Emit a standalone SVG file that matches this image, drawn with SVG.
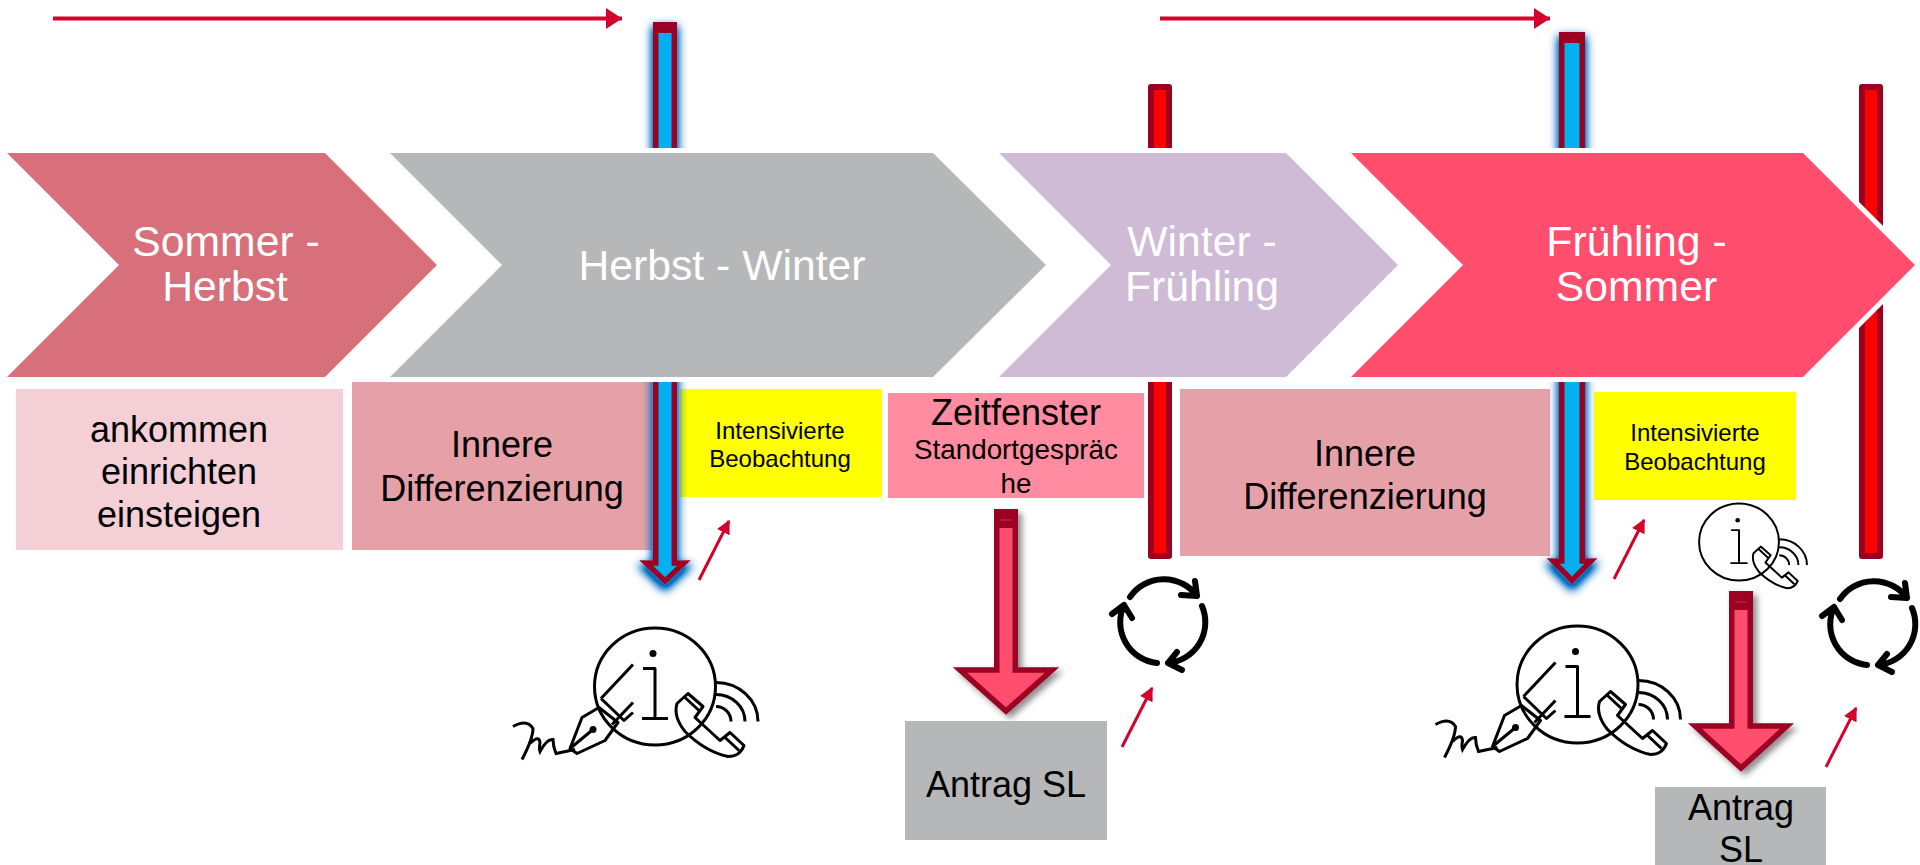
<svg xmlns="http://www.w3.org/2000/svg" width="1920" height="865" viewBox="0 0 1920 865">
<defs>
<style>
text{font-family:"Liberation Sans",Arial,sans-serif;text-anchor:middle;fill:#000}
.ch{stroke:#fff;stroke-width:10;paint-order:stroke}
.cht{fill:#fff;font-size:42.700px}
.big{font-size:36px}
.sm{font-size:24px}
.bar{stroke:#9c0021;stroke-width:6;stroke-linejoin:round}
.arw{stroke:#9c0021;stroke-width:5.500}
.ic{fill:none;stroke:#000;stroke-width:3;stroke-linecap:butt;stroke-linejoin:round}
.cy{fill:none;stroke:#000;stroke-width:6;stroke-linecap:round;stroke-linejoin:round}
.ra{stroke:#d5002b;stroke-width:3;fill:none}
</style>
<filter id="glow" x="-100%" y="-10%" width="300%" height="120%"><feMorphology in="SourceAlpha" operator="dilate" radius="1" result="d"/><feOffset in="d" dy="5" result="o"/><feGaussianBlur in="o" stdDeviation="5" result="b"/><feFlood flood-color="#0070c0"/><feComposite in2="b" operator="in"/><feComponentTransfer result="s"><feFuncA type="linear" slope="1.5"/></feComponentTransfer><feMerge><feMergeNode in="s"/><feMergeNode in="SourceGraphic"/></feMerge></filter>
<filter id="shad" x="-30%" y="-10%" width="160%" height="120%"><feDropShadow dx="4" dy="4" stdDeviation="3" flood-color="#000" flood-opacity=".45"/></filter>
<marker id="ah" viewBox="0 0 10 10" refX="9" refY="5" markerWidth="14" markerHeight="14" markerUnits="userSpaceOnUse" orient="auto"><path d="M0 0L10 5L0 10Z" fill="#d5002b"/></marker>
<g id="infoPhone">
<ellipse class="ic" cx="0" cy="0" rx="60.500" ry="58.500"/>
<circle cx="-2" cy="-33" r="3.500"/>
<path class="ic" d="M-12 -18H0V32M-13 32H13"/>
<path class="ic" d="M33 7L48 20L40 31L65 54L75 46L89 59Q85 70 73 70Q50 65 30 45Q18 30 22 17Z"/>
<path class="ic" d="M30 11L44 24M69 50L84 64"/>
<path class="ic" d="M61 -4A42 39 0 0 1 103 35M61 8A29 27 0 0 1 90 35M61 20A15 15 0 0 1 76 35"/>
</g>
<g id="pen">
<path class="ic" d="M-85 62L-73 31L-56 21L-37 36L-50 54L-78 67ZM-85 62L-62 43"/>
<path class="ic" d="M-54 12L-22 -22M-54 12L-31 34L-22 26M-43 38L-22 16"/>
<path fill="none" stroke="#000" stroke-width="3" d="M-142 40Q-128 32 -122 42Q-122 52 -133 73M-125 57Q-116 48 -115 56Q-116 62 -115 65Q-108 52 -102 53Q-102 60 -99 67L-80 63"/>
<circle cx="-62" cy="43" r="3.500"/>
</g>
<g id="cycle">
<path class="cy" d="M-33 -24A41 41 0 0 1 34 -25M32 -40L34 -25L18 -26"/>
<path class="cy" d="M39 -15A41 41 0 0 1 5 42M14 31L5 42L19 49"/>
<path class="cy" d="M-6 42A41 41 0 0 1 -39 -16M-51 -7L-39 -16L-31 -3"/>
</g>
</defs>
<g id="connectors">
<path d="M53 18.500H622" stroke="#d5002b" stroke-width="4" fill="none"/><path d="M606 8L622 18.500L606 29Z" fill="#d5002b"/>
<path d="M1160 18.500H1550" stroke="#d5002b" stroke-width="4" fill="none"/><path d="M1534 8L1550 18.500L1534 29Z" fill="#d5002b"/>
<path class="ra" d="M699 580L729 521" marker-end="url(#ah)"/>
<path class="ra" d="M1122 747L1152 688" marker-end="url(#ah)"/>
<path class="ra" d="M1614 579L1644 520" marker-end="url(#ah)"/>
<path class="ra" d="M1826 767L1856 708" marker-end="url(#ah)"/>
</g>
<g id="red-bar-1"><rect class="bar" x="1151" y="87" width="18" height="469" fill="#f00"/></g>
<g id="red-bar-2"><rect class="bar" x="1862" y="87" width="18" height="469" fill="#f00"/></g>
<g id="box-ankommen"><rect x="16" y="389" width="327" height="161" fill="#f4cfd5"/><text class="big" x="179" y="442">ankommen</text><text class="big" x="179" y="484">einrichten</text><text class="big" x="179" y="527">einsteigen</text></g>
<g id="box-innere-1"><rect x="352" y="382" width="300" height="168" fill="#e6a1a8"/><text class="big" x="502" y="457">Innere</text><text class="big" x="502" y="501">Differenzierung</text></g>
<g id="box-int-1"><rect x="680" y="389" width="202" height="108" fill="#ff0"/><text class="sm" x="780" y="439">Intensivierte</text><text class="sm" x="780" y="467">Beobachtung</text></g>
<g id="box-zeit"><rect x="888" y="393" width="256" height="105" fill="#ff8ca0"/><text class="big" x="1016" y="425">Zeitfenster</text><text x="1016" y="459" font-size="27.800">Standortgespräc</text><text x="1016" y="493" font-size="27.800">he</text></g>
<g id="box-innere-2"><rect x="1180" y="389" width="370" height="167" fill="#e6a1a8"/><text class="big" x="1365" y="466">Innere</text><text class="big" x="1365" y="509">Differenzierung</text></g>
<g id="box-int-2"><rect x="1594" y="392" width="202" height="108" fill="#ff0"/><text class="sm" x="1695" y="441">Intensivierte</text><text class="sm" x="1695" y="470">Beobachtung</text></g>
<g id="blue-arrow-1" filter="url(#glow)"><path d="M655.700 26H674.300V563H684L665 581L646 563H655.700Z" fill="#00b0f0" class="arw"/><rect x="653" y="22" width="24" height="11" fill="#9c0021"/></g>
<g id="blue-arrow-2" filter="url(#glow)"><path d="M1561.750 36H1582.250V561H1591L1572 580.500L1553 561H1561.750Z" fill="#00b0f0" class="arw"/><rect x="1559" y="32" width="26" height="11" fill="#9c0021"/></g>
<g id="chev-1"><path class="ch" d="M7 153H325L437 265L325 377H7L119 265Z" fill="#d7707a"/><text class="cht" x="226" y="256">Sommer -</text><text class="cht" x="225" y="301">Herbst</text></g>
<g id="chev-2"><path class="ch" d="M390 153H933L1046 265L933 377H390L502 265Z" fill="#b6b7b9"/><text class="cht" x="722" y="280">Herbst - Winter</text></g>
<g id="chev-3"><path class="ch" d="M999 153H1286L1398 265L1286 377H999L1111 265Z" fill="#cfbbd6"/><text class="cht" x="1202" y="256">Winter -</text><text class="cht" x="1202" y="301">Frühling</text></g>
<g id="chev-4"><path class="ch" d="M1351 153H1803L1915 265L1803 377H1351L1463 265Z" fill="#ff4d6d"/><text class="cht" x="1636.500" y="256">Frühling -</text><text class="cht" x="1636.500" y="301">Sommer</text></g>
<g id="pink-arrow-1" filter="url(#shad)"><path d="M996.750 513H1015.250V670H1052L1006 711L960 670H996.750Z" fill="#ff4d6d" class="arw"/><rect x="994" y="509" width="24" height="19" fill="#9c0021"/><path d="M1000 520H1012" stroke="#c43050"/></g>
<g id="pink-arrow-2" filter="url(#shad)"><path d="M1731.750 595H1750.250V726H1787L1741 768L1695 726H1731.750Z" fill="#ff4d6d" class="arw"/><rect x="1729" y="591" width="24" height="19" fill="#9c0021"/><path d="M1735 602H1747" stroke="#c43050"/></g>
<g id="box-antrag-1"><rect x="905" y="721" width="202" height="119" fill="#b6b7b9"/><text class="big" x="1006" y="797">Antrag SL</text></g>
<g id="box-antrag-2"><rect x="1655" y="787" width="171" height="78" fill="#b6b7b9"/><text class="big" x="1741" y="820">Antrag</text><text class="big" x="1741" y="862">SL</text></g>
<g id="icon-1" transform="translate(655 686.500)"><use href="#pen"/><use href="#infoPhone"/></g>
<g id="icon-2" transform="translate(1577.500 684.500)"><use href="#pen"/><use href="#infoPhone"/></g>
<g id="icon-3" transform="translate(1739 542) scale(.66)"><use href="#infoPhone"/></g>
<g id="cycle-1" transform="translate(1163 621)"><use href="#cycle"/></g>
<g id="cycle-2" transform="translate(1873 623)"><use href="#cycle"/></g>
</svg>
